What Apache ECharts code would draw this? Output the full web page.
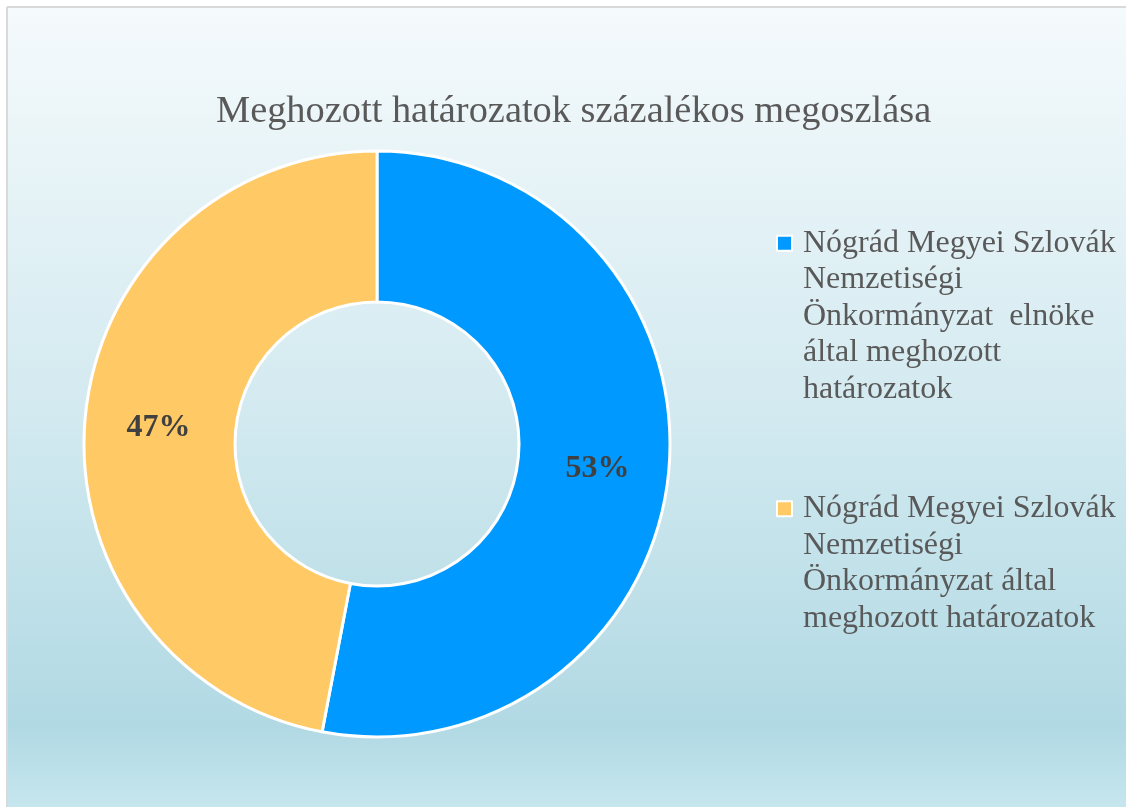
<!DOCTYPE html>
<html>
<head>
<meta charset="utf-8">
<script src="https://cdn.jsdelivr.net/npm/echarts@6/dist/echarts.min.js"></script>
<style>
  html, body { margin: 0; padding: 0; background: #fff; }
  #chart { width: 1126px; height: 807px; }
</style>
</head>
<body>
<div id="chart"></div>
<script>
const titleText = 'Meghozott határozatok százalékos megoszlása';
const sliceNames = [
  'Nógrád Megyei Szlovák Nemzetiségi Önkormányzat  elnöke által meghozott határozatok',
  'Nógrád Megyei Szlovák Nemzetiségi Önkormányzat által meghozott határozatok'
];
const sliceValues = [53, 47];
const sliceColors = ['#0099ff', '#ffc966'];
// legend lines as wrapped in the original
const legendLines = [
  ['Nógrád Megyei Szlovák', 'Nemzetiségi', 'Önkormányzat  elnöke', 'által meghozott', 'határozatok'],
  ['Nógrád Megyei Szlovák', 'Nemzetiségi', 'Önkormányzat által', 'meghozott határozatok']
];

const serif = '"Liberation Serif", "DejaVu Serif", serif';
const lineH = 36.5;

const chart = echarts.init(document.getElementById('chart'));

// blank lines on top so the first line sits level with the icon
function makeLegend(i, top) {
  const lines = legendLines[i];
  const blanks = new Array(lines.length - 1).fill(' ');
  return {
    data: [sliceNames[i]],
    left: 776,
    top: top,
    padding: 0,
    icon: 'path://M0,0L10,0L10,10L0,10Z',
    itemWidth: 27,
    itemHeight: 15,
    selectedMode: false,
    itemStyle: { borderColor: '#ffffff', borderWidth: 2 },
    formatter: () => blanks.concat(lines).join('\n'),
    textStyle: {
      fontFamily: serif,
      fontSize: 32,
      lineHeight: lineH,
      color: '#595959'
    }
  };
}

chart.setOption({
  animation: false,
  graphic: [
    {
      type: 'rect',
      z: -10,
      shape: { x: 8, y: 8, width: 1118, height: 799 },
      style: {
        fill: new echarts.graphic.LinearGradient(0, 0, 0, 1, [
          { offset: 0, color: '#f5fafc' },
          { offset: 0.5, color: '#d3eaf0' },
          { offset: 0.9, color: '#b1d9e4' },
          { offset: 1, color: '#c6e6ee' }
        ])
      }
    },
    { type: 'line', z: -5, shape: { x1: 7, y1: 7, x2: 1126, y2: 7 }, style: { stroke: '#d9d9d9', lineWidth: 2 } },
    { type: 'line', z: -5, shape: { x1: 7, y1: 7, x2: 7, y2: 807 }, style: { stroke: '#d9d9d9', lineWidth: 2 } }
  ],
  title: {
    text: titleText,
    left: 211,
    top: 88,
    textStyle: {
      fontFamily: serif,
      fontSize: 38.4,
      fontWeight: 'normal',
      color: '#595959'
    }
  },
  legend: [makeLegend(0, 79), makeLegend(1, 381)],
  series: [{
    type: 'pie',
    center: [377, 444],
    radius: [142, 293],
    startAngle: 90,
    clockwise: true,
    silent: true,
    itemStyle: { borderColor: '#ffffff', borderWidth: 3 },
    label: {
      position: 'inside',
      formatter: '{c}%',
      offset: [1, 4],
      fontFamily: serif,
      fontSize: 32,
      fontWeight: 'bold',
      color: '#404040'
    },
    labelLine: { show: false },
    data: sliceNames.map((name, i) => ({
      name: name,
      value: sliceValues[i],
      itemStyle: { color: sliceColors[i] }
    }))
  }]
});
</script>
</body>
</html>
